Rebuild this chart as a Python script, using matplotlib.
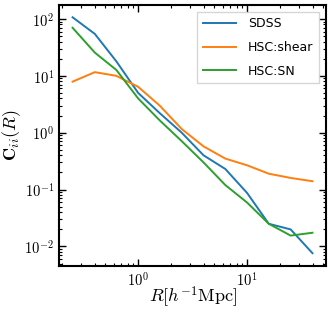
import math

import matplotlib
matplotlib.use("Agg")
import matplotlib.pyplot as plt
from matplotlib.ticker import FuncFormatter

plt.rcParams["mathtext.fontset"] = "cm"

# radial bins [h^-1 Mpc]
r_bins = [0.25, 0.40, 0.63, 1.0, 1.58, 2.51, 3.98, 6.31, 10.0, 15.8, 25.1, 39.8]

# diagonal covariance per survey
c_sdss = [107, 54.6, 18, 5.0, 2.2, 1.0, 0.40, 0.23, 0.087, 0.025, 0.0199, 0.0076]
c_hsc_shear = [7.9, 11.6, 10, 6.4, 2.98, 1.16, 0.575, 0.35, 0.267, 0.19, 0.16, 0.14]
c_hsc_sn = [70, 25.6, 12.7, 4.0, 1.64, 0.71, 0.30, 0.12, 0.059, 0.025, 0.0155, 0.0174]

labels = ["SDSS", "HSC:shear", "HSC:SN"]


def _pow10(value, pos):
	return r"$10^{%d}$" % round(math.log10(value))


fig = plt.figure(figsize=(3.32, 3.12), dpi=100)
ax = fig.add_axes([0.178, 0.147, 0.804, 0.837])

for values, label, color in zip(
	[c_sdss, c_hsc_shear, c_hsc_sn], labels, ["tab:blue", "tab:orange", "tab:green"]
):
	ax.plot(r_bins, values, color=color, lw=1.4, label=label)

ax.set_xscale("log")
ax.set_yscale("log")
ax.set_xlim(0.188, 53)
ax.set_ylim(0.0045, 176)
ax.xaxis.set_major_formatter(FuncFormatter(_pow10))
ax.yaxis.set_major_formatter(FuncFormatter(_pow10))

ax.set_xlabel(r"$R[h^{-1}\mathrm{Mpc}]$", fontsize=13, labelpad=-3)
ax.set_ylabel(r"$\mathbf{C}_{ii}(R)$", fontsize=13, labelpad=1)

for side in ax.spines.values():
	side.set_linewidth(1.5)
ax.tick_params(which="both", direction="in", top=True, right=True, labelsize=10.5)
ax.tick_params(which="major", length=5, width=1.0)
ax.tick_params(which="minor", length=2.5, width=0.8)

ax.legend(
	loc="upper right",
	fontsize=9,
	handlelength=2.7,
	handletextpad=0.95,
	labelspacing=0.85,
	borderaxespad=0.55,
	fancybox=False,
	borderpad=0.45,
)

fig.savefig("out.png", dpi=100)
